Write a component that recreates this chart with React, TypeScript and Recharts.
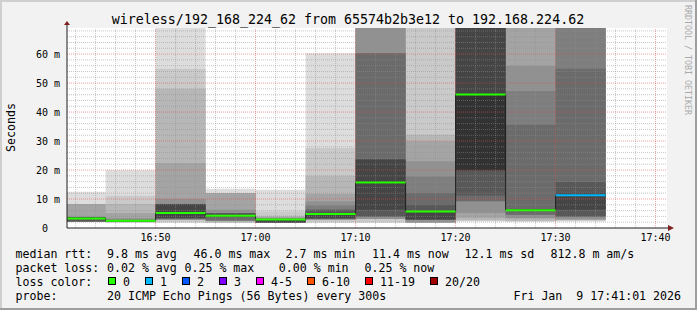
import {
  ComposedChart,
  Area,
  Line,
  XAxis,
  YAxis,
  CartesianGrid,
  ReferenceLine,
  ReferenceDot,
} from "recharts";

const FONT = '"DejaVu Sans Mono", monospace';

// 5-minute rounds, as minutes after 16:00.
const slotStart = [40, 45, 50, 55, 60, 65, 70, 75, 80, 85, 90];
const SLOT_MIN = 5;

// 20 sorted ping RTTs per round, in ms. 80 = above the top of the graph.
const ping1640 = [2.2, 2.2, 2.2, 2.2, 2.2, 2.2, 2.2, 2.2, 3.2, 3.2, 3.4, 3.8, 3.8, 3.8, 3.8, 4.0, 8.3, 8.3, 8.3, 12.5];
const ping1645 = [1.9, 1.9, 2.3, 2.3, 2.3, 2.3, 2.3, 2.3, 2.3, 2.4, 2.7, 2.8, 2.8, 2.8, 3.0, 3.4, 5.2, 8.3, 11.1, 19.9];
const ping1650 = [1.9, 1.9, 2.9, 2.9, 2.9, 2.9, 3.4, 3.4, 3.4, 5.1, 5.5, 8.3, 8.3, 8.3, 8.3, 10.1, 22.4, 48.0, 54.9, 80];
const ping1655 = [1.9, 1.9, 1.9, 2.6, 2.6, 2.6, 2.6, 4.0, 4.0, 4.0, 4.3, 4.6, 5.2, 5.2, 5.2, 6.3, 12.1, 12.1, 12.1, 13.5];
const ping1700 = [1.9, 1.9, 1.9, 1.9, 1.9, 1.9, 1.9, 1.9, 1.9, 2.8, 3.0, 3.0, 3.1, 3.2, 3.3, 3.4, 3.8, 4.2, 5.7, 13.2];
const ping1705 = [1.9, 1.9, 3.0, 3.0, 3.0, 3.0, 3.0, 3.4, 3.4, 4.7, 4.9, 5.2, 6.3, 6.3, 7.8, 9.2, 11.7, 18.0, 27.6, 60.3];
const ping1710 = [1.9, 1.9, 3.1, 3.1, 3.1, 4.0, 4.0, 4.0, 6.3, 15.3, 16.1, 23.6, 23.6, 60.3, 60.3, 80, 80, 80, 80, 80];
const ping1715 = [1.9, 1.9, 1.9, 1.9, 1.9, 2.9, 2.9, 2.9, 2.9, 5.5, 5.8, 6.0, 8.0, 12.1, 17.8, 23.0, 29.9, 32.2, 80, 80];
const ping1720 = [2.3, 2.3, 2.8, 3.5, 5.2, 9.2, 9.2, 11.2, 19.9, 19.9, 46.1, 80, 80, 80, 80, 80, 80, 80, 80, 80];
const ping1725 = [2.3, 2.3, 2.3, 3.4, 3.4, 4.6, 4.6, 6.0, 6.0, 6.0, 6.4, 6.4, 6.5, 35.6, 47.3, 56.0, 80, 80, 80, 80];
const ping1730 = [2.3, 2.3, 2.9, 2.9, 2.9, 4.0, 4.0, 4.0, 6.3, 11.0, 11.4, 12.1, 15.9, 54.9, 80, 80, 80, 80, 80, 80];
const roundPings = [
  ping1640, ping1645, ping1650, ping1655, ping1700, ping1705,
  ping1710, ping1715, ping1720, ping1725, ping1730,
];

const medianMs = [3.3, 2.5, 5.2, 4.2, 2.9, 4.8, 15.7, 5.7, 46.1, 6.1, 11.3];
const lostPings = [0, 0, 0, 0, 0, 0, 0, 0, 0, 0, 1];

const lossLabels = ["0", "1", "2", "3", "4-5", "6-10", "11-19", "20/20"];
const lossUpper = [0, 1, 2, 3, 5, 10, 19, 20];
const lossColors = ["#26ff00", "#00b8ff", "#0059ff", "#7e00ff", "#ff00ff", "#ff5500", "#ff0000", "#a10000"];

const xTicks = [50, 60, 70, 80, 90, 100];
const yTicks = [0, 10, 20, 30, 40, 50, 60];
const X_DOMAIN: [number, number] = [41.14, 101.14];
const Y_MAX = 69;

const titleText = "wireless/192_168_224_62 from 65574b2b3e12 to 192.168.224.62";
const rttStats = ["9.8 ms avg", "46.0 ms max", "2.7 ms min", "11.4 ms now", "12.1 ms sd", "812.8 m am/s"];
const lossStats = ["0.02 % avg", "0.25 % max", "0.00 % min", "0.25 % now"];
const probeText = "20 ICMP Echo Pings (56 Bytes) every 300s";
const stampText = "Fri Jan  9 17:41:01 2026";

// legend column positions (px)
const rttX = [107, 193.5, 285.5, 372, 464.5, 550.5];
const lossX = [107, 184.5, 278.8, 364.5];

const PINGS = 20;
const HALF = PINGS / 2;
const bands: number[] = [];
for (let k = 1; k <= HALF; k++) bands.push(k);

// smokeping style: outer bands light, inner bands dark
function grayFor(k: number): string {
  const v = Math.round((190 / HALF) * (HALF - k) + 50);
  return `rgb(${v},${v},${v})`;
}

function lossColor(lost: number): string {
  const i = lossUpper.findIndex((u) => lost <= u);
  return lossColors[i < 0 ? lossColors.length - 1 : i];
}

const fmtClock = (m: number): string => {
  const h = 16 + Math.floor(m / 60);
  const mm = m % 60;
  return `${h}:${mm < 10 ? "0" : ""}${mm}`;
};

// monospace padding keeps "0" where rrdtool puts it
const fmtMs = (v: number): string => (v === 0 ? "0\u00a0\u00a0" : `${v} m`);

interface Row {
  t: number;
  p: number[];
  median: number;
}

const rows: Row[] = slotStart.map((t, i) => ({ t, p: roundPings[i], median: medianMs[i] }));
const last = slotStart.length - 1;
rows.push({ t: slotStart[last] + SLOT_MIN, p: roundPings[last], median: medianMs[last] });

// grid: minor every 2 min / 2 ms, major every 10
const minorX: number[] = [];
for (let m = 42; m <= 100; m += 2) if (m % 10 !== 0) minorX.push(m);
const minorY: number[] = [];
for (let v = 2; v <= 68; v += 2) if (v % 10 !== 0) minorY.push(v);
const majorY = yTicks.filter((v) => v > 0);

const MINOR = { stroke: "#8f8f8f", strokeOpacity: 0.5, strokeDasharray: "1 1" };
const MAJOR = { stroke: "#de4f4f", strokeOpacity: 0.55, strokeDasharray: "1 1" };

const ARROW = "#801f1f";

function XArrow(props: { cx?: number; cy?: number }) {
  const { cx = 0, cy = 0 } = props;
  return (
    <g>
      <line x1={cx} y1={cy} x2={cx + 2} y2={cy} stroke="#1f1f1f" />
      <polygon points={`${cx + 1},${cy - 3} ${cx + 7},${cy} ${cx + 1},${cy + 3}`} fill={ARROW} />
    </g>
  );
}

function YArrow(props: { cx?: number; cy?: number }) {
  const { cx = 0, cy = 0 } = props;
  return (
    <g>
      <line x1={cx} y1={cy} x2={cx} y2={cy - 3} stroke="#1f1f1f" />
      <polygon points={`${cx - 3},${cy - 3} ${cx},${cy - 7} ${cx + 3},${cy - 3}`} fill={ARROW} />
    </g>
  );
}

export default function App() {
  const boxX: number[] = [];
  let bx = 108.5;
  for (const label of lossLabels) {
    boxX.push(bx);
    bx += 30 + 7 * label.length;
  }

  return (
    <div
      style={{
        position: "absolute",
        left: 0,
        top: 0,
        width: 697,
        height: 310,
        background: "#f2f2f2",
        overflow: "hidden",
      }}
    >
      <div style={{ position: "absolute", left: 0, top: 0 }}>
        <ComposedChart
          width={697}
          height={250}
          data={rows}
          margin={{ top: 28, right: 30, bottom: 0, left: 0 }}
        >
          <CartesianGrid fill="#ffffff" horizontal={false} vertical={false} />
          <XAxis
            dataKey="t"
            type="number"
            domain={X_DOMAIN}
            allowDataOverflow
            ticks={xTicks}
            tickFormatter={fmtClock}
            height={22}
            tickLine={false}
            tickSize={6}
            tickMargin={0}
            axisLine={{ stroke: "#1f1f1f" }}
            tick={{ fontSize: 10, fontFamily: FONT, fill: "#000" }}
          />
          <YAxis
            type="number"
            domain={[0, Y_MAX]}
            allowDataOverflow
            ticks={yTicks}
            tickFormatter={fmtMs}
            width={67}
            tickLine={false}
            tickSize={6}
            tickMargin={1}
            axisLine={{ stroke: "#1f1f1f" }}
            tick={{ fontSize: 10, fontFamily: FONT, fill: "#000" }}
          />
          {bands.map((k) => (
            <Area
              key={`band${k}`}
              type="stepAfter"
              dataKey={(d: Row) => [d.p[k - 1], d.p[PINGS - k]]}
              stroke="none"
              fill={grayFor(k)}
              fillOpacity={1}
              dot={false}
              activeDot={false}
              isAnimationActive={false}
            />
          ))}
          {minorX.map((m) => (
            <ReferenceLine key={`gx${m}`} x={m} {...MINOR} />
          ))}
          {minorY.map((v) => (
            <ReferenceLine key={`gy${v}`} y={v} {...MINOR} />
          ))}
          {xTicks.map((m) => (
            <ReferenceLine key={`Gx${m}`} x={m} {...MAJOR} />
          ))}
          {majorY.map((v) => (
            <ReferenceLine key={`Gy${v}`} y={v} {...MAJOR} />
          ))}
          <Line
            type="stepAfter"
            dataKey="median"
            stroke="#202020"
            strokeWidth={1}
            dot={false}
            activeDot={false}
            isAnimationActive={false}
          />
          {slotStart.map((t, i) => (
            <ReferenceLine
              key={`med${t}`}
              segment={[
                { x: t, y: medianMs[i] },
                { x: t + SLOT_MIN, y: medianMs[i] },
              ]}
              stroke={lossColor(lostPings[i])}
              strokeWidth={2}
              ifOverflow="hidden"
            />
          ))}
          <ReferenceDot x={X_DOMAIN[1]} y={0} ifOverflow="visible" shape={<XArrow />} />
          <ReferenceDot x={X_DOMAIN[0]} y={Y_MAX} ifOverflow="visible" shape={<YArrow />} />
        </ComposedChart>
      </div>

      <svg
        width={697}
        height={310}
        style={{ position: "absolute", left: 0, top: 0, pointerEvents: "none" }}
        fontFamily={FONT}
      >
        <line x1={0} y1={1} x2={697} y2={1} stroke="#cfcfcf" strokeWidth={2} />
        <line x1={1} y1={0} x2={1} y2={310} stroke="#cfcfcf" strokeWidth={2} />
        <line x1={0} y1={309} x2={697} y2={309} stroke="#9e9e9e" strokeWidth={2} />
        <line x1={696} y1={0} x2={696} y2={310} stroke="#9e9e9e" strokeWidth={2} />

        <text x={348} y={23.5} fontSize={13.3} textAnchor="middle" fill="#000">
          {titleText}
        </text>
        <text
          x={15}
          y={127.5}
          fontSize={11.6}
          textAnchor="middle"
          fill="#000"
          transform="rotate(-90 15 127.5)"
        >
          Seconds
        </text>
        <text x={685} y={5} fontSize={8.3} fill="#aaaaaa" transform="rotate(90 685 5)">
          RRDTOOL / TOBI OETIKER
        </text>

        <g fontSize={11.6} fill="#000">
          <text x={15.5} y={258.3}>median rtt:</text>
          {rttStats.map((s, i) => (
            <text key={s} x={rttX[i]} y={258.3}>
              {s}
            </text>
          ))}
          <text x={15.5} y={272.3}>packet loss:</text>
          {lossStats.map((s, i) => (
            <text key={s} x={lossX[i]} y={272.3}>
              {s}
            </text>
          ))}
          <text x={15.5} y={286.3}>loss color:</text>
          {lossLabels.map((l, i) => (
            <g key={l}>
              <rect
                x={boxX[i]}
                y={277.5}
                width={7}
                height={7}
                fill={lossColors[i]}
                stroke="#000"
                strokeWidth={1}
              />
              <text x={boxX[i] + 14.5} y={286.3}>
                {l}
              </text>
            </g>
          ))}
          <text x={15.5} y={300.3}>probe:</text>
          <text x={107} y={300.3}>{probeText}</text>
          <text x={681} y={300.3} textAnchor="end" style={{ whiteSpace: "pre" }}>
            {stampText}
          </text>
        </g>
      </svg>
    </div>
  );
}
